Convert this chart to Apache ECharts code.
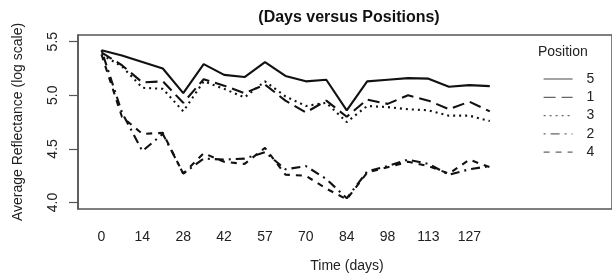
<!DOCTYPE html>
<html>
<head>
<meta charset="utf-8">
<script src="https://cdn.jsdelivr.net/npm/echarts@6/dist/echarts.min.js"></script>
<style>
  html, body { margin: 0; padding: 0; background: #fff; }
  #chart { width: 612px; height: 275px; }
</style>
</head>
<body>
<div id="chart"></div>
<script>
// x positions are sample index (one step = 7 days); ticks every 2 steps
const tickLabels = ["0", "14", "28", "42", "57", "70", "84", "98", "113", "127"];
const positions = ["5", "1", "3", "2", "4"];

const pos5 = [5.42, 5.37, 5.31, 5.25, 5.02, 5.29, 5.19, 5.17, 5.31, 5.18, 5.13, 5.145, 4.86, 5.13, 5.145, 5.16, 5.155, 5.08, 5.095, 5.085];
const pos1 = [5.40, 5.28, 5.12, 5.13, 4.93, 5.15, 5.09, 5.02, 5.10, 4.95, 4.84, 4.95, 4.80, 4.96, 4.92, 5.00, 4.95, 4.87, 4.94, 4.85];
const pos3 = [5.38, 5.27, 5.07, 5.06, 4.85, 5.13, 5.06, 4.98, 5.13, 4.99, 4.90, 4.93, 4.75, 4.90, 4.89, 4.87, 4.86, 4.81, 4.81, 4.76];
const pos2 = [5.42, 4.84, 4.48, 4.64, 4.27, 4.41, 4.40, 4.41, 4.47, 4.31, 4.34, 4.22, 4.04, 4.29, 4.34, 4.40, 4.36, 4.26, 4.31, 4.34];
const pos4 = [5.38, 4.80, 4.64, 4.65, 4.27, 4.46, 4.38, 4.36, 4.51, 4.26, 4.25, 4.13, 4.03, 4.28, 4.33, 4.38, 4.34, 4.27, 4.40, 4.33];

const yTicks = [4.0, 4.5, 5.0, 5.5];

const font = "Liberation Sans, Arial, sans-serif";
const chart = echarts.init(document.getElementById("chart"));

function toPoints(arr) {
  return arr.map((v, i) => [i, v]);
}

// dash patterns roughly like R lty 1,5,3,4,2
const dashes = {
  "5": "solid",
  "1": [12, 6],
  "3": [2, 4],
  "2": [2, 5, 9, 5],
  "4": [6, 6]
};
const values = { "5": pos5, "1": pos1, "3": pos3, "2": pos2, "4": pos4 };

const series = positions.map((p) => ({
  name: p,
  type: "line",
  data: toPoints(values[p]),
  symbol: "none",
  silent: true,
  color: "#111",
  lineStyle: { color: "#111", width: 2.1, type: dashes[p] }
}));

const xTickIdx = tickLabels.map((_, i) => i * 2);

chart.setOption({
  animation: false,
  backgroundColor: "#fff",
  textStyle: { fontFamily: font },
  grid: {
    left: 78,
    top: 35,
    width: 554,
    height: 174,
    show: true,
    borderColor: "#555",
    borderWidth: 1.5,
    containLabel: false
  },
  graphic: [
    {
      type: "text",
      x: 349,
      y: 18,
      style: {
        text: "(Days versus Positions)",
        font: "bold 16px " + font,
        fill: "#111",
        textAlign: "center",
        textVerticalAlign: "middle"
      }
    },
    {
      type: "text",
      x: 347,
      y: 266,
      style: {
        text: "Time (days)",
        font: "14px " + font,
        fill: "#222",
        textAlign: "center",
        textVerticalAlign: "middle"
      }
    },
    {
      type: "text",
      x: 538,
      y: 52,
      style: {
        text: "Position",
        font: "14px " + font,
        fill: "#222",
        textVerticalAlign: "middle"
      }
    }
  ],
  legend: {
    data: positions,
    orient: "vertical",
    left: 538,
    top: 67,
    itemWidth: 29,
    itemHeight: 14,
    itemGap: 4.3,
    itemStyle: { opacity: 0 },
    lineStyle: { width: 1.2, color: "#666" },
    textStyle: { fontSize: 14, color: "#222", padding: [0, 0, 0, 9] }
  },
  xAxis: {
    type: "value",
    min: -1.15,
    max: 24.98,
    splitLine: { show: false },
    axisLine: { show: false, onZero: false },
    axisTick: { show: false },
    axisLabel: {
      customValues: xTickIdx,
      formatter: (v) => tickLabels[Math.round(v / 2)],
      fontSize: 14,
      color: "#222",
      margin: 21
    }
  },
  yAxis: {
    type: "value",
    min: 3.94,
    max: 5.562,
    name: "Average Reflectance (log scale)",
    nameLocation: "middle",
    nameGap: 53,
    nameRotate: 90,
    nameTextStyle: { fontSize: 14, color: "#222" },
    splitLine: { show: false },
    axisLine: { show: true, onZero: false, lineStyle: { color: "#555", width: 1.5 } },
    axisTick: {
      show: true,
      length: 9,
      customValues: yTicks,
      lineStyle: { color: "#555", width: 1.2 }
    },
    axisLabel: {
      customValues: yTicks,
      formatter: (v) => v.toFixed(1),
      rotate: 90,
      fontSize: 14,
      color: "#222",
      margin: 18
    }
  },
  series: series
});
</script>
</body>
</html>
